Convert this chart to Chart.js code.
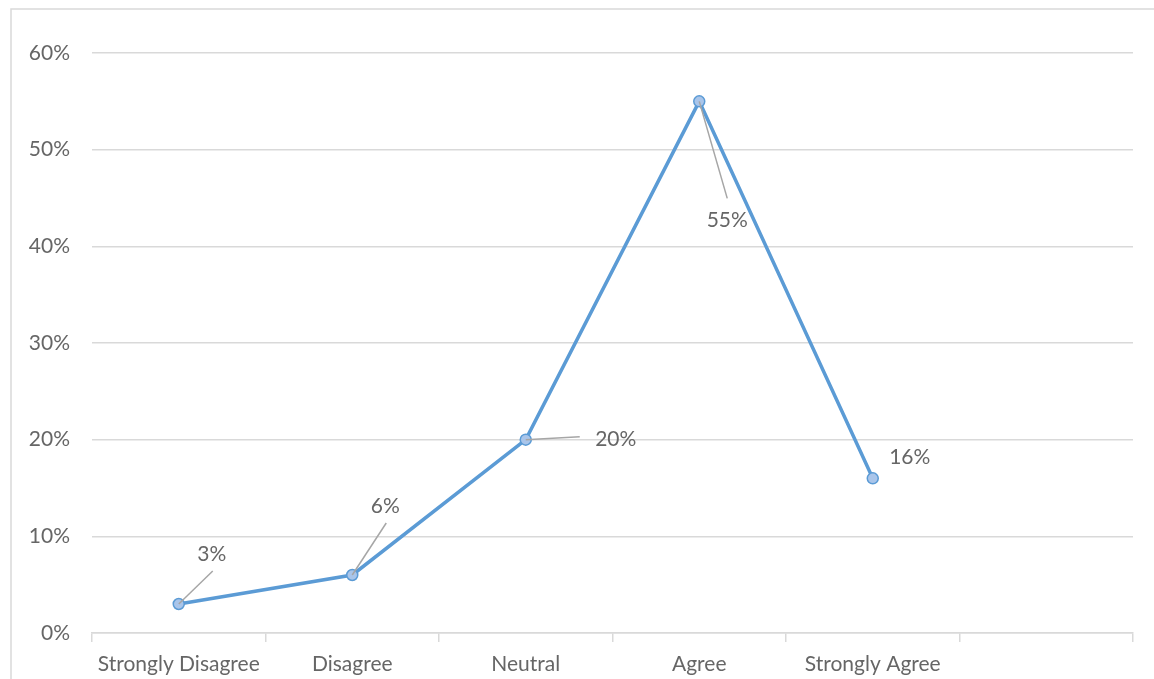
<!DOCTYPE html>
<html>
<head>
<meta charset="utf-8">
<script src="https://cdn.jsdelivr.net/npm/chart.js@4/dist/chart.umd.min.js"></script>
<style>
  html, body { margin: 0; padding: 0; background: #fff; }
  #wrap { width: 1154px; height: 679px; position: relative; }
</style>
</head>
<body>
<div id="wrap"><canvas id="chart"></canvas></div>
<script>
// survey responses (share of respondents)
const categories = ['Strongly Disagree', 'Disagree', 'Neutral', 'Agree', 'Strongly Agree', ''];
const shares = [0.03, 0.06, 0.20, 0.55, 0.16, null];
const yTicks = [0, 0.1, 0.2, 0.3, 0.4, 0.5, 0.6];

// label placement relative to each point: [dx, dy, leader end dx, leader end dy]
const labelOffsets = [
  [33, -50, 34, -33],
  [33, -69, 34, -52],
  [90, 0, 54, -3],
  [28, 119, 28, 97],
  [37, -21, null, null]
];

const textColor = '#666666';
const gridColor = '#d9d9d9';
const fontFamily = "Lato, 'Open Sans', sans-serif";
const fontSize = 21;

// outer frame around the chart
const framePlugin = {
  id: 'frame',
  beforeDraw(chart) {
    const ctx = chart.ctx;
    ctx.save();
    ctx.strokeStyle = gridColor;
    ctx.lineWidth = 1.5;
    ctx.strokeRect(11, 9, chart.width + 20, chart.height + 20);
    ctx.restore();
  }
};

// value labels with leader lines
const pointLabels = {
  id: 'pointLabels',
  afterDatasetsDraw(chart) {
    const ctx = chart.ctx;
    const meta = chart.getDatasetMeta(0);
    ctx.save();
    ctx.font = fontSize + 'px ' + fontFamily;
    ctx.textAlign = 'center';
    ctx.textBaseline = 'middle';
    meta.data.forEach((pt, i) => {
      const v = shares[i];
      if (v == null) return;
      const [dx, dy, lx, ly] = labelOffsets[i];
      if (lx != null) {
        ctx.strokeStyle = '#a6a6a6';
        ctx.lineWidth = 1.5;
        ctx.beginPath();
        ctx.moveTo(pt.x, pt.y);
        ctx.lineTo(pt.x + lx, pt.y + ly);
        ctx.stroke();
      }
      ctx.fillStyle = textColor;
      ctx.fillText(Math.round(v * 100) + '%', pt.x + dx, pt.y + dy);
    });
    ctx.restore();
  }
};

new Chart(document.getElementById('chart'), {
  type: 'line',
  data: {
    labels: categories,
    datasets: [{
      data: shares,
      borderColor: '#5b9bd5',
      borderWidth: 3.5,
      pointRadius: 5.5,
      pointBorderWidth: 1.5,
      pointBackgroundColor: '#a9c5ea',
      pointBorderColor: '#5b9bd5',
      tension: 0,
      spanGaps: false
    }]
  },
  options: {
    responsive: true,
    maintainAspectRatio: false,
    animation: false,
    layout: { padding: { left: 11, right: 21, top: 53, bottom: 0 } },
    plugins: {
      legend: { display: false },
      tooltip: { enabled: false }
    },
    scales: {
      x: {
        offset: true,
        afterFit: s => { s.height = 46; },
        grid: {
          offset: true,
          drawOnChartArea: false,
          drawTicks: true,
          tickLength: 9,
          color: gridColor,
          lineWidth: 1.5
        },
        border: { color: gridColor, width: 1.5 },
        ticks: {
          color: textColor,
          padding: 10,
          maxRotation: 0,
          autoSkip: false,
          font: { family: fontFamily, size: fontSize }
        }
      },
      y: {
        min: 0,
        max: 0.6,
        afterFit: s => { s.width = 81; },
        afterBuildTicks: s => { s.ticks = yTicks.map(v => ({ value: v })); },
        grid: { color: gridColor, lineWidth: 1.5, drawTicks: false },
        border: { display: false },
        ticks: {
          color: textColor,
          padding: 22,
          font: { family: fontFamily, size: fontSize },
          callback: v => Math.round(v * 100) + '%'
        }
      }
    }
  },
  plugins: [framePlugin, pointLabels]
});
</script>
</body>
</html>
